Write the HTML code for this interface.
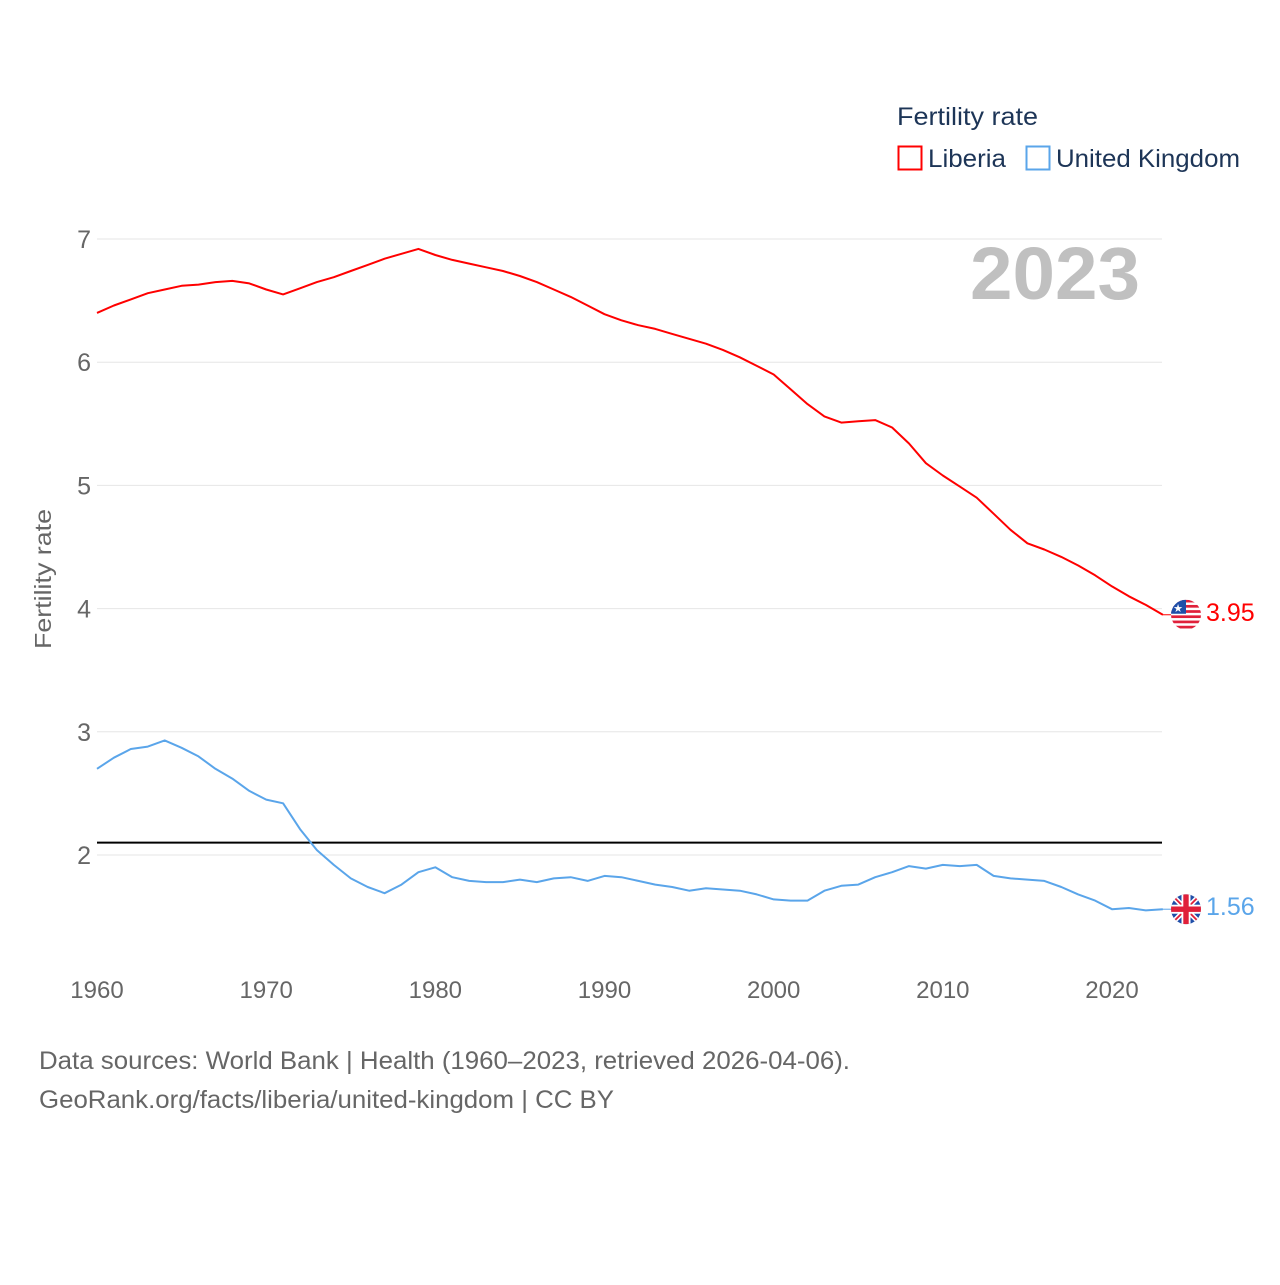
<!DOCTYPE html>
<html><head><meta charset="utf-8">
<style>
html,body{margin:0;padding:0;background:#fff;}
body{width:1280px;height:1280px;position:relative;font-family:"Liberation Sans",sans-serif;overflow:hidden;}
svg text{font-family:"Liberation Sans",sans-serif;}
</style></head>
<body>
<svg id="chart" width="1280" height="1280" viewBox="0 0 1280 1280" xmlns="http://www.w3.org/2000/svg">
<g>
<text x="897" y="125" font-size="25" fill="#1d3557" textLength="141" lengthAdjust="spacingAndGlyphs">Fertility rate</text>
<rect x="898.5" y="146.5" width="23" height="23" fill="none" stroke="#ff0000" stroke-width="2"/>
<text x="928" y="167" font-size="25" fill="#1d3557" textLength="78" lengthAdjust="spacingAndGlyphs">Liberia</text>
<rect x="1026.5" y="146.5" width="23" height="23" fill="none" stroke="#5aa5ea" stroke-width="2"/>
<text x="1056" y="167" font-size="25" fill="#1d3557" textLength="184" lengthAdjust="spacingAndGlyphs">United Kingdom</text>
</g>
<text x="1140" y="299" font-size="74" font-weight="bold" fill="#c0c0c0" text-anchor="end" textLength="170" lengthAdjust="spacingAndGlyphs">2023</text>
<g id="grid"></g>
<g id="axes"></g>
<g id="series"></g>
<text transform="translate(51,579) rotate(-90)" font-size="23" fill="#666" text-anchor="middle" textLength="140" lengthAdjust="spacingAndGlyphs">Fertility rate</text>
<text x="39" y="1069" font-size="25" fill="#666" textLength="811" lengthAdjust="spacingAndGlyphs">Data sources: World Bank | Health (1960–2023, retrieved 2026-04-06).</text>
<text x="39" y="1108" font-size="25" fill="#666" textLength="575" lengthAdjust="spacingAndGlyphs">GeoRank.org/facts/liberia/united-kingdom | CC BY</text>
</svg>
<script>
const years=[];for(let y=1960;y<=2023;y++)years.push(y);
const liberia=[6.40,6.46,6.51,6.56,6.59,6.62,6.63,6.65,6.66,6.64,6.59,6.55,6.60,6.65,6.69,6.74,6.79,6.84,6.88,6.92,6.87,6.83,6.80,6.77,6.74,6.70,6.65,6.59,6.53,6.46,6.39,6.34,6.30,6.27,6.23,6.19,6.15,6.10,6.04,5.97,5.90,5.78,5.66,5.56,5.51,5.52,5.53,5.47,5.34,5.18,5.08,4.99,4.90,4.77,4.64,4.53,4.48,4.42,4.35,4.27,4.18,4.10,4.03,3.95];
const uk=[2.70,2.79,2.86,2.88,2.93,2.87,2.80,2.70,2.62,2.52,2.45,2.42,2.21,2.04,1.92,1.81,1.74,1.69,1.76,1.86,1.90,1.82,1.79,1.78,1.78,1.80,1.78,1.81,1.82,1.79,1.83,1.82,1.79,1.76,1.74,1.71,1.73,1.72,1.71,1.68,1.64,1.63,1.63,1.71,1.75,1.76,1.82,1.86,1.91,1.89,1.92,1.91,1.92,1.83,1.81,1.80,1.79,1.74,1.68,1.63,1.56,1.57,1.55,1.56];
const yTicks=[2,3,4,5,6,7];
const xTicks=[1960,1970,1980,1990,2000,2010,2020];
const replacementRate=[2.1];
const NS="http://www.w3.org/2000/svg";
const X0=97,X1=1162;
function xs(y){return X0+(y-1960)*(1112-97)/60;}
function ys(v){return 855-(v-2)*(855-239)/5;}
function mk(tag,attrs,parent){const e=document.createElementNS(NS,tag);for(const k in attrs)e.setAttribute(k,attrs[k]);parent.appendChild(e);return e;}
const grid=document.getElementById('grid'),axes=document.getElementById('axes'),series=document.getElementById('series');
yTicks.forEach(v=>{
  const l=mk('line',{x1:X0,x2:X1,y1:ys(v),y2:ys(v),stroke:'#e6e6e6','stroke-width':1},grid);
  
  
  const t=mk('text',{x:91,y:ys(v)+9,'font-size':25,fill:'#666','text-anchor':'end'},axes);
  t.textContent=v;
  
  
});
xTicks.forEach(y=>{
  const t=mk('text',{x:xs(y),y:998,'font-size':24,fill:'#666','text-anchor':'middle'},axes);
  t.textContent=y;
  
  
});
const rl=mk('line',{x1:X0,x2:X1,y1:ys(replacementRate[0]),y2:ys(replacementRate[0]),stroke:'#000','stroke-width':2},series);


function line(data,color,name){
  const d=data.map((v,i)=>(i?'L':'M')+xs(years[i]).toFixed(1)+','+ys(v).toFixed(1)).join('');
  const p=mk('path',{d:d,fill:'none',stroke:color,'stroke-width':2,'stroke-linejoin':'round'},series);
  
  
}
line(liberia,'#ff0000','liberia-line');
line(uk,'#5aa5ea','uk-line');
function endLabel(data,color,name,flag){
  const v=data[data.length-1],y=ys(v),cx=1186;
  const g=mk('g',{},series);
  
  
  mk('line',{x1:X1,x2:cx-14,y1:y,y2:y,stroke:color,'stroke-width':1},g);
  const cp='clip-'+name;
  const c=mk('clipPath',{id:cp},g);mk('circle',{cx:cx,cy:y,r:15},c);
  const f=mk('g',{'clip-path':'url(#'+cp+')'},g);
  if(flag==='lr'){
    mk('rect',{x:cx-15,y:y-15,width:30,height:30,fill:'#fff'},f);
    for(let i=0;i<6;i++)mk('rect',{x:cx-15,y:y-15+i*5.2,width:30,height:2.7,fill:'#e0203a'},f);
    mk('rect',{x:cx-15,y:y-15,width:15,height:14,fill:'#1f4ea8'},f);
    const s=mk('text',{x:cx-8,y:y-3,'font-size':11,fill:'#fff','text-anchor':'middle'},f);s.textContent='★';
  }else{
    mk('rect',{x:cx-15,y:y-15,width:30,height:30,fill:'#1f4ea8'},f);
    mk('path',{d:`M${cx-15},${y-15}L${cx+15},${y+15}M${cx+15},${y-15}L${cx-15},${y+15}`,stroke:'#fff','stroke-width':5},f);
    mk('path',{d:`M${cx-15},${y-15}L${cx+15},${y+15}M${cx+15},${y-15}L${cx-15},${y+15}`,stroke:'#e0203a','stroke-width':1.8},f);
    mk('rect',{x:cx-15,y:y-4.5,width:30,height:9,fill:'#fff'},f);
    mk('rect',{x:cx-4.5,y:y-15,width:9,height:30,fill:'#fff'},f);
    mk('rect',{x:cx-15,y:y-2.7,width:30,height:5.4,fill:'#e0203a'},f);
    mk('rect',{x:cx-2.7,y:y-15,width:5.4,height:30,fill:'#e0203a'},f);
  }
  const t=mk('text',{x:1206,y:y+6,'font-size':25,fill:color},g);
  t.textContent=v.toFixed(2);
}
endLabel(liberia,'#ff0000','liberia','lr');
endLabel(uk,'#5aa5ea','uk','gb');
</script>
</body></html>
